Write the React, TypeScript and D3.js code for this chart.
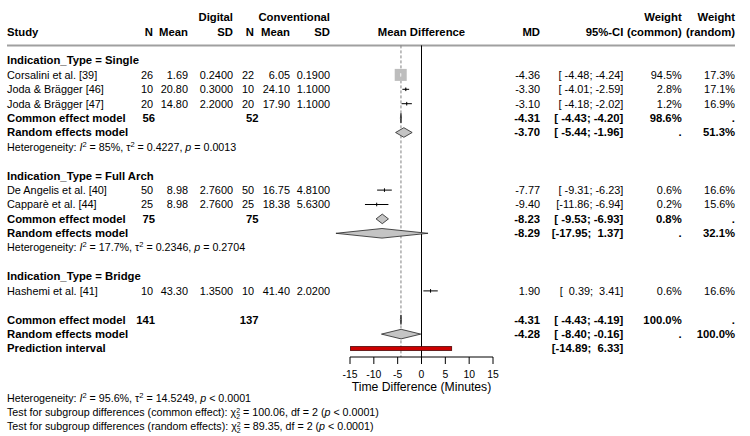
import React from "react";
import * as d3 from "d3";

// ---------- data ----------
const studyNames = [
  "Corsalini et al. [39]",
  "Joda & Brägger [46]",
  "Joda & Brägger [47]",
  "De Angelis et al. [40]",
  "Capparè et al. [44]",
  "Hashemi et al. [41]",
];
const studyGroup = [0, 0, 0, 1, 1, 2];
const digitalN = [26, 10, 20, 50, 25, 10];
const digitalMean = [1.69, 20.8, 14.8, 8.98, 8.98, 43.3];
const digitalSD = [0.24, 0.3, 2.2, 2.76, 2.76, 1.35];
const convN = [22, 10, 20, 50, 25, 10];
const convMean = [6.05, 24.1, 17.9, 16.75, 18.38, 41.4];
const convSD = [0.19, 1.1, 1.1, 4.81, 5.63, 2.02];
const studyMD = [-4.36, -3.3, -3.1, -7.77, -9.4, 1.9];
const studyLo = [-4.48, -4.01, -4.18, -9.31, -11.86, 0.39];
const studyHi = [-4.24, -2.59, -2.02, -6.23, -6.94, 3.41];
const weightCommon = [94.5, 2.8, 1.2, 0.6, 0.2, 0.6];
const weightRandom = [17.3, 17.1, 16.9, 16.6, 15.6, 16.6];

const groupNames = ["Single", "Full Arch", "Bridge"];
const groupN1 = [56, 75];
const groupN2 = [52, 75];
const groupCommonMD = [-4.31, -8.23];
const groupCommonLo = [-4.43, -9.53];
const groupCommonHi = [-4.2, -6.93];
const groupCommonW = [98.6, 0.8];
const groupRandomMD = [-3.7, -8.29];
const groupRandomLo = [-5.44, -17.95];
const groupRandomHi = [-1.96, 1.37];
const groupRandomW = [51.3, 32.1];
const groupI2 = ["85%", "17.7%"];
const groupTau2 = ["0.4227", "0.2346"];
const groupP = ["= 0.0013", "= 0.2704"];

const overallN = [141, 137];
const overallMD = [-4.31, -4.28];
const overallLo = [-4.43, -8.4];
const overallHi = [-4.19, -0.16];
const overallW = [100.0, 100.0];
const predictionInterval = [-14.89, 6.33];
const overallI2 = "95.6%";
const overallTau2 = "14.5249";
const overallP = "< 0.0001";
const subgroupChi2 = ["100.06", "89.35"];
const subgroupLabels = ["common effect", "random effects"];
const xTicks = [-15, -10, -5, 0, 5, 10, 15];

// ---------- layout ----------
const W = 750;
const H = 436;
const FONT = "'Liberation Sans', Arial, Helvetica, sans-serif";
const x = d3.scaleLinear().domain([-15, 15]).range([350, 493]);
const y = d3.scaleLinear().domain([0, 1]).range([60.5, 74.9]);
const colX = {
  study: 7,
  n1: 153,
  mean1: 188,
  sd1: 233,
  n2: 254,
  mean2: 290,
  sd2: 330,
  tot1: 155,
  tot2: 258.5,
  md: 540,
  ci: 623.3,
  wc: 681.7,
  wr: 735,
};
const FS = 10.9;
const FSB = 11.3;
const yAxis = 357;
const maxW = d3.max(weightCommon) as number;

const f2 = (v: number) => v.toFixed(2);
const f4 = (v: number) => v.toFixed(4);
const pct = (v: number) => v.toFixed(1) + "%";
const ciStr = (lo: number, hi: number) =>
  "[" + f2(lo).padStart(6, " ") + "; " + f2(hi).padStart(5, " ") + "]";

type Row = { kind: string; idx: number; row: number };

function buildRows(): Row[] {
  const rows: Row[] = [];
  let r = 0;
  groupNames.forEach((g, gi) => {
    rows.push({ kind: "group", idx: gi, row: r++ });
    studyNames.forEach((_, si) => {
      if (studyGroup[si] === gi) rows.push({ kind: "study", idx: si, row: r++ });
    });
    if (gi < groupCommonMD.length) {
      rows.push({ kind: "gcommon", idx: gi, row: r++ });
      rows.push({ kind: "grandom", idx: gi, row: r++ });
      rows.push({ kind: "ghet", idx: gi, row: r++ });
    }
    r++;
  });
  r++;
  rows.push({ kind: "ocommon", idx: 0, row: r - 1 });
  rows.push({ kind: "orandom", idx: 1, row: r });
  rows.push({ kind: "pred", idx: 0, row: r + 1 });
  return rows;
}

const T = (props: any) => (
  <text
    fontFamily={FONT}
    fontSize={FS}
    dy="0.35em"
    xmlSpace="preserve"
    style={{ whiteSpace: "pre" }}
    {...props}
  />
);
const B = (props: any) => <T fontSize={FSB} fontWeight="bold" {...props} />;

function Het({ yy, i2, tau2, p }: { yy: number; i2: string; tau2: string; p: string }) {
  return (
    <T x={colX.study} y={yy} fontSize={10.7}>
      {"Heterogeneity: "}
      <tspan fontStyle="italic">I</tspan>
      <tspan dy={-4} fontSize={7.5}>2</tspan>
      <tspan dy={4}>{" = " + i2 + ", τ"}</tspan>
      <tspan dy={-4} fontSize={7.5}>2</tspan>
      <tspan dy={4}>{" = " + tau2 + ", "}</tspan>
      <tspan fontStyle="italic">p</tspan>
      {" " + p}
    </T>
  );
}

function Diamond({ md, lo, hi, yy }: { md: number; lo: number; hi: number; yy: number }) {
  const h = 4.8;
  const pts = [
    [x(lo), yy],
    [x(md), yy - h],
    [x(hi), yy],
    [x(md), yy + h],
  ];
  return (
    <polygon
      points={pts.map((p) => p.join(",")).join(" ")}
      fill="#c4c4c4"
      stroke="#222"
      strokeWidth={0.8}
    />
  );
}

export default function App() {
  const rows = buildRows();
  const yTop = y(-1.05);
  const dashX = x(overallMD[0]);

  return (
    <svg
      width={W}
      height={H}
      style={{ position: "absolute", left: 0, top: 0, background: "#fff" }}
    >
      <rect width={W} height={H} fill="#fff" />
      {/* headers */}
      <B x={colX.sd1} y={y(-3)} textAnchor="end">Digital</B>
      <B x={colX.sd2} y={y(-3)} textAnchor="end">Conventional</B>
      <B x={colX.wc} y={y(-3)} textAnchor="end">Weight</B>
      <B x={colX.wr} y={y(-3)} textAnchor="end">Weight</B>
      <B x={colX.study} y={y(-2)}>Study</B>
      <B x={colX.n1} y={y(-2)} textAnchor="end">N</B>
      <B x={colX.mean1} y={y(-2)} textAnchor="end">Mean</B>
      <B x={colX.sd1} y={y(-2)} textAnchor="end">SD</B>
      <B x={colX.n2} y={y(-2)} textAnchor="end">N</B>
      <B x={colX.mean2} y={y(-2)} textAnchor="end">Mean</B>
      <B x={colX.sd2} y={y(-2)} textAnchor="end">SD</B>
      <B x={x(0)} y={y(-2)} textAnchor="middle">Mean Difference</B>
      <B x={colX.md} y={y(-2)} textAnchor="end">MD</B>
      <B x={colX.ci} y={y(-2)} textAnchor="end">95%-CI</B>
      <B x={colX.wc} y={y(-2)} textAnchor="end">(common)</B>
      <B x={colX.wr} y={y(-2)} textAnchor="end">(random)</B>
      <line x1={colX.study} x2={colX.wr} y1={yTop} y2={yTop} stroke="#a0a0a0" strokeWidth={2} />

      {/* reference lines */}
      <line x1={x(0)} x2={x(0)} y1={yTop} y2={yAxis} stroke="#000" strokeWidth={1} />
      <line
        x1={dashX}
        x2={dashX}
        y1={yTop}
        y2={yAxis}
        stroke="#808080"
        strokeWidth={1}
        strokeDasharray="3,2"
      />

      {rows.map((rw, k) => {
        const yy = y(rw.row);
        const i = rw.idx;
        if (rw.kind === "group") {
          return (
            <B key={k} x={colX.study} y={yy}>
              {"Indication_Type = " + groupNames[i]}
            </B>
          );
        }
        if (rw.kind === "study") {
          const s = 12 * Math.sqrt(weightCommon[i] / maxW);
          const inside = s > 4;
          return (
            <g key={k}>
              <T x={colX.study} y={yy}>{studyNames[i]}</T>
              <T x={colX.n1} y={yy} textAnchor="end">{String(digitalN[i])}</T>
              <T x={colX.mean1} y={yy} textAnchor="end">{f2(digitalMean[i])}</T>
              <T x={colX.sd1} y={yy} textAnchor="end">{f4(digitalSD[i])}</T>
              <T x={colX.n2} y={yy} textAnchor="end">{String(convN[i])}</T>
              <T x={colX.mean2} y={yy} textAnchor="end">{f2(convMean[i])}</T>
              <T x={colX.sd2} y={yy} textAnchor="end">{f4(convSD[i])}</T>
              <T x={colX.md} y={yy} textAnchor="end">{f2(studyMD[i])}</T>
              <T x={colX.ci} y={yy} textAnchor="end">{ciStr(studyLo[i], studyHi[i])}</T>
              <T x={colX.wc} y={yy} textAnchor="end">{pct(weightCommon[i])}</T>
              <T x={colX.wr} y={yy} textAnchor="end">{pct(weightRandom[i])}</T>
              <rect
                x={x(studyMD[i]) - s / 2}
                y={yy - s / 2}
                width={s}
                height={s}
                fill="#bdbdbd"
              />
              <line
                x1={x(studyLo[i])}
                x2={x(studyHi[i])}
                y1={yy}
                y2={yy}
                stroke={inside ? "#eeeeee" : "#000"}
                strokeWidth={1}
              />
              <line
                x1={x(studyMD[i])}
                x2={x(studyMD[i])}
                y1={yy - 1.8}
                y2={yy + 1.8}
                stroke={inside ? "#eeeeee" : "#000"}
                strokeWidth={1}
              />
            </g>
          );
        }
        if (rw.kind === "gcommon") {
          return (
            <g key={k}>
              <B x={colX.study} y={yy}>Common effect model</B>
              <B x={colX.tot1} y={yy} textAnchor="end">{String(groupN1[i])}</B>
              <B x={colX.tot2} y={yy} textAnchor="end">{String(groupN2[i])}</B>
              <B x={colX.md} y={yy} textAnchor="end">{f2(groupCommonMD[i])}</B>
              <B x={colX.ci} y={yy} textAnchor="end">{ciStr(groupCommonLo[i], groupCommonHi[i])}</B>
              <B x={colX.wc} y={yy} textAnchor="end">{pct(groupCommonW[i])}</B>
              <B x={colX.wr} y={yy} textAnchor="end">.</B>
              <Diamond md={groupCommonMD[i]} lo={groupCommonLo[i]} hi={groupCommonHi[i]} yy={yy} />
            </g>
          );
        }
        if (rw.kind === "grandom") {
          return (
            <g key={k}>
              <B x={colX.study} y={yy}>Random effects model</B>
              <B x={colX.md} y={yy} textAnchor="end">{f2(groupRandomMD[i])}</B>
              <B x={colX.ci} y={yy} textAnchor="end">{ciStr(groupRandomLo[i], groupRandomHi[i])}</B>
              <B x={colX.wc} y={yy} textAnchor="end">.</B>
              <B x={colX.wr} y={yy} textAnchor="end">{pct(groupRandomW[i])}</B>
              <Diamond md={groupRandomMD[i]} lo={groupRandomLo[i]} hi={groupRandomHi[i]} yy={yy} />
            </g>
          );
        }
        if (rw.kind === "ghet") {
          return <Het key={k} yy={yy} i2={groupI2[i]} tau2={groupTau2[i]} p={groupP[i]} />;
        }
        if (rw.kind === "ocommon" || rw.kind === "orandom") {
          const common = rw.kind === "ocommon";
          return (
            <g key={k}>
              <B x={colX.study} y={yy}>
                {common ? "Common effect model" : "Random effects model"}
              </B>
              {common && (
                <>
                  <B x={colX.tot1} y={yy} textAnchor="end">{String(overallN[0])}</B>
                  <B x={colX.tot2} y={yy} textAnchor="end">{String(overallN[1])}</B>
                </>
              )}
              <B x={colX.md} y={yy} textAnchor="end">{f2(overallMD[i])}</B>
              <B x={colX.ci} y={yy} textAnchor="end">{ciStr(overallLo[i], overallHi[i])}</B>
              <B x={colX.wc} y={yy} textAnchor="end">{common ? pct(overallW[0]) : "."}</B>
              <B x={colX.wr} y={yy} textAnchor="end">{common ? "." : pct(overallW[1])}</B>
              <Diamond md={overallMD[i]} lo={overallLo[i]} hi={overallHi[i]} yy={yy} />
            </g>
          );
        }
        if (rw.kind === "pred") {
          return (
            <g key={k}>
              <B x={colX.study} y={yy}>Prediction interval</B>
              <B x={colX.ci} y={yy} textAnchor="end">
                {ciStr(predictionInterval[0], predictionInterval[1])}
              </B>
              <rect
                x={x(predictionInterval[0])}
                y={yy - 1.9}
                width={x(predictionInterval[1]) - x(predictionInterval[0])}
                height={3.8}
                fill="#cc0000"
                stroke="#4a0000"
                strokeWidth={0.8}
              />
            </g>
          );
        }
        return null;
      })}

      {/* axis */}
      <g>
        <line x1={x(-15)} x2={x(15)} y1={yAxis} y2={yAxis} stroke="#000" strokeWidth={1} />
        {xTicks.map((t) => (
          <g key={t}>
            <line x1={x(t)} x2={x(t)} y1={yAxis} y2={yAxis + 7} stroke="#000" strokeWidth={1} />
            <T x={x(t)} y={yAxis + 17} textAnchor="middle" fontSize={10.4}>{String(t)}</T>
          </g>
        ))}
        <T x={x(0)} y={yAxis + 29.5} textAnchor="middle" fontSize={12.2}>Time Difference (Minutes)</T>
      </g>

      {/* bottom notes */}
      <Het yy={yAxis + 41.5} i2={overallI2} tau2={overallTau2} p={overallP} />
      {subgroupChi2.map((c, j) => (
        <T key={j} x={colX.study} y={yAxis + 55.5 + j * 14} fontSize={10.7}>
          {"Test for subgroup differences (" + subgroupLabels[j] + "): χ"}
          <tspan dy={-3.5} fontSize={7}>2</tspan>
          <tspan dx={-3.9} dy={6.5} fontSize={7}>2</tspan>
          <tspan dy={-3}>{" = " + c + ", df = 2 ("}</tspan>
          <tspan fontStyle="italic">p</tspan>
          {" < 0.0001)"}
        </T>
      ))}
    </svg>
  );
}
